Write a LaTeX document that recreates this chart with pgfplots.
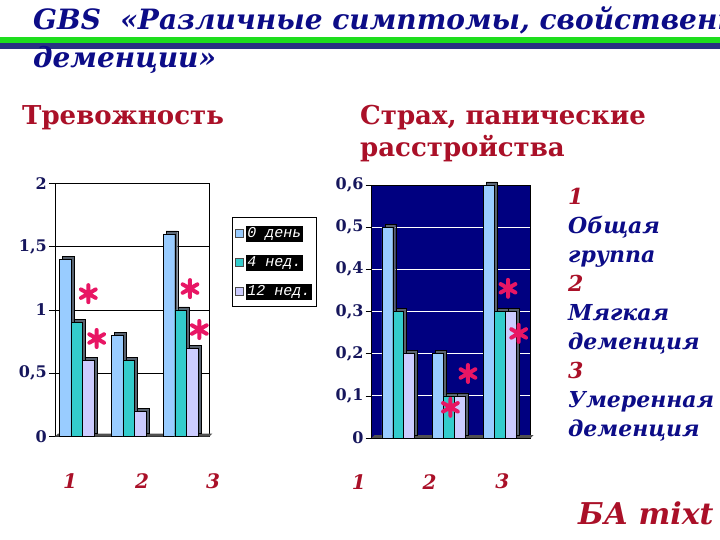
\documentclass[border=0pt]{standalone}
\usepackage{fontspec}
\setmainfont{DejaVu Serif}
\newfontfamily\monofont{Liberation Mono}
\usepackage{pgfplots}
\usepackage{pgfplotstable}
\pgfplotsset{compat=1.18}

\definecolor{titleblue}{RGB}{12,12,135}
\definecolor{darkred}{RGB}{170,16,40}
\definecolor{ticknavy}{RGB}{22,22,92}
\definecolor{star}{RGB}{232,22,100}
\definecolor{cBlue}{RGB}{153,204,255}
\definecolor{cTeal}{RGB}{51,204,204}
\definecolor{cLav}{RGB}{204,204,255}
\definecolor{side}{RGB}{88,98,110}
\definecolor{floor}{RGB}{80,80,80}
\definecolor{navybg}{RGB}{0,0,128}
\definecolor{lineGreen}{RGB}{30,222,30}
\definecolor{lineNavy}{RGB}{40,50,130}

\pgfplotsset{
  slide/.style={scale only axis, clip=false, xtick=\empty, ytick pos=left,
    tick align=outside, major tick length=6pt, ymajorgrids,
    tick style={black, line width=0.6pt},
    axis line style={black, line width=0.6pt},
    yticklabel style={font=\bfseries\fontsize{16}{16}\selectfont, text=ticknavy, inner xsep=2pt},
    /pgf/number format/assume math mode=true, /pgf/number format/use comma},
  sq legend/.style={legend image code/.code={\draw[##1,draw=black!70,line width=0.4pt] (0pt,-4pt) rectangle (8pt,4pt);}},
  sidebar/.style={ybar, fill=side, draw=black, line width=0.4pt, xshift=3pt, yshift=3pt, forget plot},
  frontbar/.style={ybar, draw=black, line width=0.4pt, sq legend},
  stars/.style={only marks, mark=asterisk, mark size=8.5pt, color=star,
    mark options={line width=4pt, line cap=round}, forget plot},
}
\tikzset{grouplab/.style={font=\bfseries\itshape\fontsize{20}{20}\selectfont, text=darkred}}

\pgfplotstableread{
g d0 w4 w12
1 1.4 0.9 0.6
2 0.8 0.6 0.2
3 1.6 1.0 0.7
}\anxiety
\pgfplotstableread{
g d0 w4 w12
1 0.5 0.3 0.2
2 0.2 0.1 0.1
3 0.6 0.3 0.3
}\panic

\newcommand{\lbox}[1]{{\setlength{\fboxsep}{1.5pt}\colorbox{black}{\textcolor{white}{#1}}}}

\begin{document}
\begin{tikzpicture}
\useasboundingbox[fill=white] (0pt,0pt) rectangle (720pt,540pt);

% title
\node[anchor=base west, inner sep=0, text=titleblue, font=\bfseries\itshape\fontsize{28}{28}\selectfont] at (33pt,510pt) {GBS\ \ «Различные симптомы, свойственные};
\fill[lineGreen] (0pt,497pt) rectangle (720pt,503pt);
\fill[lineNavy] (0pt,491pt) rectangle (720pt,497pt);
\node[anchor=base west, inner sep=0, text=titleblue, font=\bfseries\itshape\fontsize{28}{28}\selectfont] at (33pt,472pt) {деменции»};

% chart titles
\node[anchor=base west, inner sep=0, text=darkred, font=\bfseries\fontsize{26}{26}\selectfont] at (22pt,415pt) {Тревожность};
\node[anchor=base west, inner sep=0, text=darkred, font=\bfseries\fontsize{26}{26}\selectfont] at (360pt,415pt) {Страх, панические};
\node[anchor=base west, inner sep=0, text=darkred, font=\bfseries\fontsize{26}{26}\selectfont] at (360pt,383pt) {расстройства};

% left chart: anxiety
\begin{axis}[slide, at={(55pt,103.3pt)}, anchor=south west, width=154.3pt, height=253.4pt,
  xmin=0.582, xmax=3.555, ymin=0, ymax=2, ytick={0,0.5,1,1.5,2},
  bar width=0.222, grid style={black, line width=0.6pt},
  legend style={at={(1.147,0.867)}, anchor=north west, draw=black, line width=0.8pt,
    fill=white, inner xsep=3pt, inner ysep=7pt, row sep=12pt,
    font=\monofont\itshape\fontsize{15}{15}\selectfont, cells={anchor=west}}]
\addplot[fill=floor, draw=none, forget plot] coordinates {(0.582,0) (3.555,0) (3.613,0.024) (0.64,0.024)};
\addplot[sidebar, bar shift=-0.222] table[x=g,y=d0] {\anxiety};
\addplot[frontbar, fill=cBlue, bar shift=-0.222] table[x=g,y=d0] {\anxiety};
\addlegendentry{\lbox{0 день}}
\addplot[sidebar, bar shift=0] table[x=g,y=w4] {\anxiety};
\addplot[frontbar, fill=cTeal, bar shift=0] table[x=g,y=w4] {\anxiety};
\addlegendentry{\lbox{4 нед.}}
\addplot[sidebar, bar shift=0.222] table[x=g,y=w12] {\anxiety};
\addplot[frontbar, fill=cLav, bar shift=0.222] table[x=g,y=w12] {\anxiety};
\addlegendentry{\lbox{12 нед.}}
\addplot[stars] coordinates {(1.224,1.129) (1.385,0.775) (3.183,1.169) (3.362,0.846)};
\node[grouplab] at (axis cs:0.871,-0.354) {1};
\node[grouplab] at (axis cs:2.258,-0.354) {2};
\node[grouplab] at (axis cs:3.626,-0.354) {3};
\end{axis}

% right chart: fear, panic
\begin{axis}[slide, at={(371.7pt,102pt)}, anchor=south west, width=159pt, height=253pt,
  xmin=0.478, xmax=3.611, ymin=0, ymax=0.6, ytick={0,0.1,0.2,0.3,0.4,0.5,0.6},
  bar width=0.216, grid style={white, line width=0.8pt},
  axis background/.style={fill=navybg}]
\addplot[fill=floor, draw=none, forget plot] coordinates {(0.478,0) (3.611,0) (3.67,0.0071) (0.537,0.0071)};
\addplot[sidebar, bar shift=-0.216] table[x=g,y=d0] {\panic};
\addplot[frontbar, fill=cBlue, bar shift=-0.216] table[x=g,y=d0] {\panic};
\addplot[sidebar, bar shift=0] table[x=g,y=w4] {\panic};
\addplot[frontbar, fill=cTeal, bar shift=0] table[x=g,y=w4] {\panic};
\addplot[sidebar, bar shift=0.216] table[x=g,y=w12] {\panic};
\addplot[frontbar, fill=cLav, bar shift=0.216] table[x=g,y=w12] {\panic};
\addplot[stars] coordinates {(3.164,0.355) (3.374,0.248) (2.375,0.153) (2.029,0.0728)};
\node[grouplab] at (axis cs:0.222,-0.1036) {1};
\node[grouplab] at (axis cs:1.616,-0.1036) {2};
\node[grouplab] at (axis cs:3.053,-0.1036) {3};
\end{axis}

% group key on the right
\begin{scope}[every node/.style={anchor=base west, inner sep=0, font=\bfseries\itshape\fontsize{22}{22}\selectfont}]
\node[text=darkred] at (568pt,335pt) {1};
\node[text=titleblue] at (568pt,306pt) {Общая};
\node[text=titleblue] at (568pt,277pt) {группа};
\node[text=darkred] at (568pt,248pt) {2};
\node[text=titleblue] at (568pt,219pt) {Мягкая};
\node[text=titleblue] at (568pt,190pt) {деменция};
\node[text=darkred] at (568pt,161pt) {3};
\node[text=titleblue] at (568pt,132pt) {Умеренная};
\node[text=titleblue] at (568pt,103pt) {деменция};
\end{scope}
\node[anchor=base west, inner sep=0, text=darkred, font=\bfseries\itshape\fontsize{30}{30}\selectfont] at (578pt,15pt) {БА mixt};
\end{tikzpicture}
\end{document}
